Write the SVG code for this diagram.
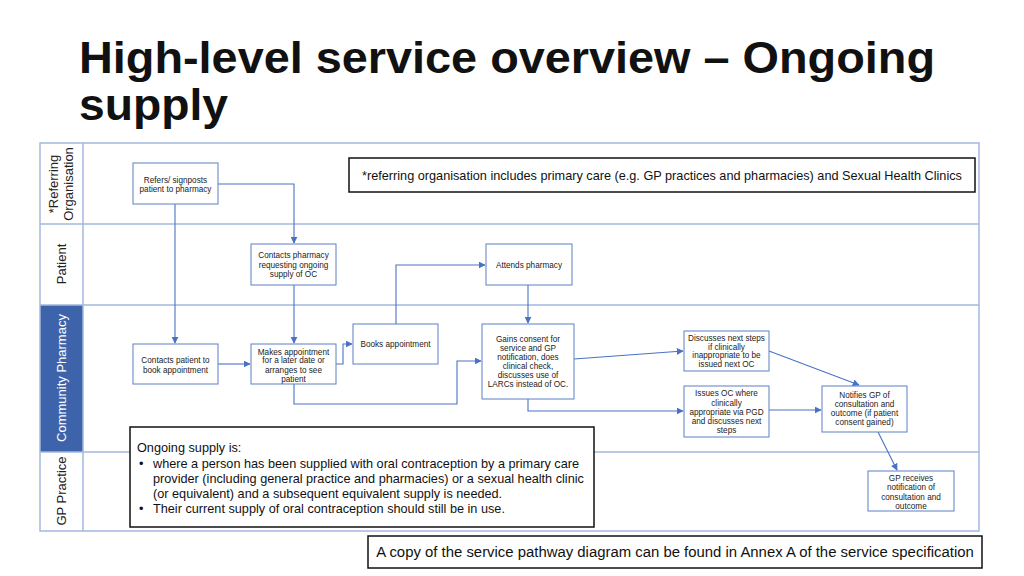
<svg xmlns="http://www.w3.org/2000/svg" width="1024" height="576" viewBox="0 0 1024 576">
<style>
.lane{fill:none;stroke:#a3b8de;stroke-width:1.5}
.node rect{fill:#fff;stroke:#5b80c6;stroke-width:1}
.node text{font-family:"Liberation Sans",Arial,sans-serif;font-size:8.2px;fill:#222;text-anchor:middle}
.conn path{fill:none;stroke:#4a72c4;stroke-width:1.1}
.lbl{font-family:"Liberation Sans",Arial,sans-serif;font-size:13px;fill:#222;text-anchor:middle}
.note rect{fill:#fff;stroke:#111;stroke-width:1.5}
.note text{font-family:"Liberation Sans",Arial,sans-serif;fill:#111}
.ttl{font-family:"Liberation Sans",Arial,sans-serif;font-weight:bold;font-size:44px;fill:#111}
</style>
<defs>
<marker id="ah" viewBox="0 0 10 10" refX="9" refY="5" markerWidth="7" markerHeight="7" markerUnits="userSpaceOnUse" orient="auto">
<path d="M0,0 L10,5 L0,10 z" fill="#4a72c4"/>
</marker>
</defs>
<rect width="1024" height="576" fill="#fff"/>
<g id="title">
<text class="ttl" x="79" y="73" textLength="856" lengthAdjust="spacingAndGlyphs">High-level service overview – Ongoing</text>
<text class="ttl" x="79" y="120" textLength="149" lengthAdjust="spacingAndGlyphs">supply</text>
</g>
<g id="lanes">
<rect x="40" y="305" width="43" height="147" fill="#3d64ab"/>
<rect class="lane" x="40" y="143" width="939" height="388"/>
<line class="lane" x1="40" y1="224" x2="979" y2="224"/>
<line class="lane" x1="40" y1="305" x2="979" y2="305"/>
<line class="lane" x1="40" y1="452" x2="979" y2="452"/>
<line class="lane" x1="83" y1="143" x2="83" y2="531"/>
<text class="lbl" transform="translate(58,184) rotate(-90)">*Referring</text>
<text class="lbl" transform="translate(73,184) rotate(-90)">Organisation</text>
<text class="lbl" transform="translate(66,264) rotate(-90)">Patient</text>
<text class="lbl" transform="translate(66,378) rotate(-90)" style="fill:#fff">Community Pharmacy</text>
<text class="lbl" transform="translate(66,491) rotate(-90)">GP Practice</text>
</g>
<g id="connectors" class="conn">
<path d="M218,184 H294 V243" marker-end="url(#ah)"/>
<path d="M175,204 V343" marker-end="url(#ah)"/>
<path d="M294,285 V343" marker-end="url(#ah)"/>
<path d="M218,364 H250" marker-end="url(#ah)"/>
<path d="M336,364 H343 V344 H352" marker-end="url(#ah)"/>
<path d="M396,324 V265 H485" marker-end="url(#ah)"/>
<path d="M528,285 V323" marker-end="url(#ah)"/>
<path d="M294,384 V404 H457 V361 H481" marker-end="url(#ah)"/>
<path d="M574,359 L683,351" marker-end="url(#ah)"/>
<path d="M528,399 V411 H683" marker-end="url(#ah)"/>
<path d="M769,351 L859,385" marker-end="url(#ah)"/>
<path d="M769,410 H821" marker-end="url(#ah)"/>
<path d="M878,432 L897,470" marker-end="url(#ah)"/>
</g>
<g id="n-refers" class="node"><rect x="133" y="163" width="85" height="41"/><text x="175.5" y="183">Refers/ signposts</text><text x="175.5" y="192">patient to pharmacy</text></g>
<g id="n-contacts-pharmacy" class="node"><rect x="251" y="244" width="85" height="41"/><text x="293.5" y="258">Contacts pharmacy</text><text x="293.5" y="268">requesting ongoing</text><text x="293.5" y="277">supply of OC</text></g>
<g id="n-attends" class="node"><rect x="486" y="244" width="86" height="41"/><text x="529" y="268">Attends pharmacy</text></g>
<g id="n-contacts-patient" class="node"><rect x="133" y="344" width="85" height="40"/><text x="175.5" y="363">Contacts patient to</text><text x="175.5" y="373">book appointment</text></g>
<g id="n-makes" class="node"><rect x="251" y="344" width="85" height="40"/><text x="293.5" y="355">Makes appointment</text><text x="293.5" y="363">for a later date or</text><text x="293.5" y="373">arranges to see</text><text x="293.5" y="382">patient</text></g>
<g id="n-books" class="node"><rect x="353" y="324" width="85" height="40"/><text x="395.5" y="347">Books appointment</text></g>
<g id="n-gains" class="node"><rect x="482" y="324" width="92" height="75"/><text x="528" y="342">Gains consent for</text><text x="528" y="351">service and GP</text><text x="528" y="360">notification, does</text><text x="528" y="369">clinical check,</text><text x="528" y="378">discusses use of</text><text x="528" y="387">LARCs instead of OC.</text></g>
<g id="n-discusses" class="node"><rect x="684" y="331" width="85" height="40"/><text x="726.5" y="341">Discusses next steps</text><text x="726.5" y="350">if clinically</text><text x="726.5" y="358">inappropriate to be</text><text x="726.5" y="367">issued next OC</text></g>
<g id="n-issues" class="node"><rect x="684" y="386" width="85" height="51"/><text x="726.5" y="396">Issues OC where</text><text x="726.5" y="406">clinically</text><text x="726.5" y="415">appropriate via PGD</text><text x="726.5" y="424">and discusses next</text><text x="726.5" y="433">steps</text></g>
<g id="n-notifies" class="node"><rect x="822" y="386" width="85" height="46"/><text x="864.5" y="398">Notifies GP of</text><text x="864.5" y="407">consultation and</text><text x="864.5" y="416">outcome (if patient</text><text x="864.5" y="425">consent gained)</text></g>
<g id="n-gp-receives" class="node"><rect x="868" y="471" width="86" height="40"/><text x="911" y="481">GP receives</text><text x="911" y="490">notification of</text><text x="911" y="500">consultation and</text><text x="911" y="509">outcome</text></g>
<g id="note-referring" class="note"><rect x="349" y="158" width="626" height="34"/><text x="662" y="180" font-size="12.7" text-anchor="middle">*referring organisation includes primary care (e.g. GP practices and pharmacies) and Sexual Health Clinics</text></g>
<g id="note-ongoing" class="note"><rect x="130" y="427" width="464" height="100"/>
<text x="137" y="452" font-size="12.7">Ongoing supply is:</text>
<text x="139" y="468" font-size="12.7">•</text><text x="153" y="468" font-size="12.7">where a person has been supplied with oral contraception by a primary care</text>
<text x="153" y="483" font-size="12.7">provider (including general practice and pharmacies) or a sexual health clinic</text>
<text x="153" y="498" font-size="12.7">(or equivalent) and a subsequent equivalent supply is needed.</text>
<text x="139" y="513" font-size="12.7">•</text><text x="153" y="513" font-size="12.7">Their current supply of oral contraception should still be in use.</text>
</g>
<g id="note-annex" class="note"><rect x="368" y="536" width="614" height="32"/><text x="675" y="557" font-size="14.9" text-anchor="middle">A copy of the service pathway diagram can be found in Annex A of the service specification</text></g>
</svg>
